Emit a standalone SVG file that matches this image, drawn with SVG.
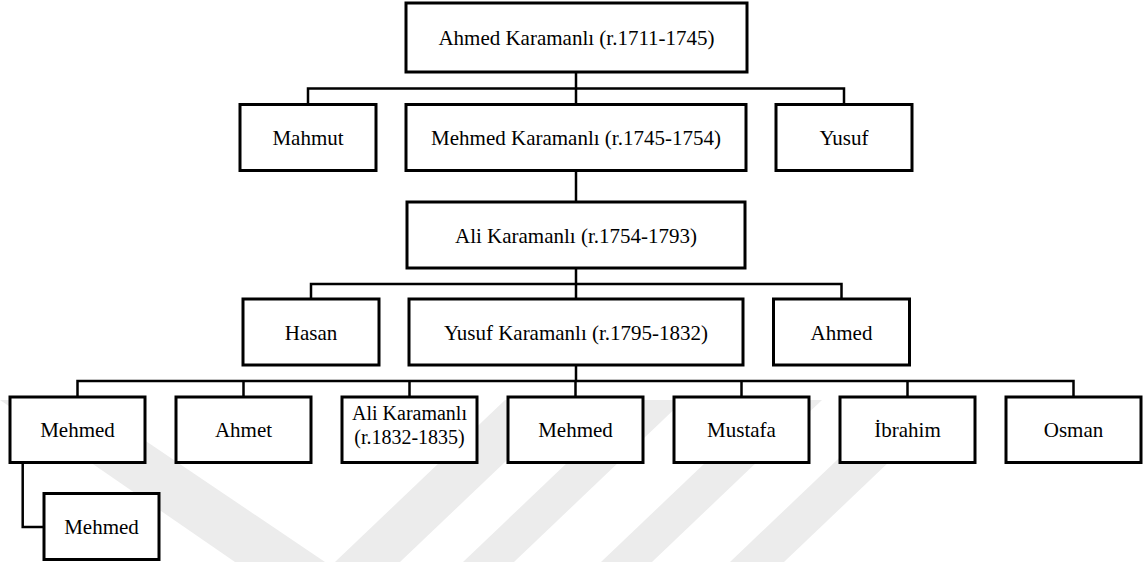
<svg xmlns="http://www.w3.org/2000/svg" width="1143" height="562" viewBox="0 0 1143 562">
<style>
.box{fill:#fff;stroke:#000;stroke-width:3}
.lbl{font-family:"Liberation Serif","Times New Roman",serif;font-size:21px;fill:#000;text-anchor:middle}
.sm{font-size:20px}
.ln{fill:none;stroke:#000;stroke-width:2.5}
.wm{fill:#ececec}
</style>
<rect width="1143" height="562" fill="#fff"/>
<g id="watermark">
<polygon class="wm" points="0,400 85,400 325,562 235,562"/>
<polygon class="wm" points="505,400 570,400 400,562 335,562"/>
<polygon class="wm" points="633,400 684,400 514,562 463,562"/>
<polygon class="wm" points="771,400 822,400 652,562 601,562"/>
<polygon class="wm" points="900,400 954,400 784,562 730,562"/>
</g>
<g id="connectors">
<path class="ln" d="M576,72 V88.5 M308,103 V88.5 H844 V103 M576,88.5 V103"/>
<path class="ln" d="M576,171 V201"/>
<path class="ln" d="M576,269 V284 M311,298 V284 H841.5 V298 M576,284 V298"/>
<path class="ln" d="M576,366 V381 M77.5,396 V381 H1073.5 V396 M243.5,381 V396 M409.5,381 V396 M575.5,381 V396 M741.5,381 V396 M907.5,381 V396"/>
<path class="ln" d="M22.7,464 V527 H44"/>
</g>
<g id="n-ahmed-karamanli"><rect class="box" x="406" y="3" width="341" height="69"/><text class="lbl" x="576.5" y="45">Ahmed Karamanlı (r.1711-1745)</text></g>
<g id="n-mahmut"><rect class="box" x="240" y="104.5" width="136" height="66"/><text class="lbl" x="308" y="145">Mahmut</text></g>
<g id="n-mehmed-karamanli"><rect class="box" x="406" y="104.5" width="340" height="66"/><text class="lbl" x="576" y="145">Mehmed Karamanlı (r.1745-1754)</text></g>
<g id="n-yusuf"><rect class="box" x="776" y="104.5" width="136" height="66"/><text class="lbl" x="844" y="145">Yusuf</text></g>
<g id="n-ali-karamanli"><rect class="box" x="407" y="202" width="338" height="66"/><text class="lbl" x="576" y="242.5">Ali Karamanlı (r.1754-1793)</text></g>
<g id="n-hasan"><rect class="box" x="243" y="299" width="136" height="66"/><text class="lbl" x="311" y="339.5">Hasan</text></g>
<g id="n-yusuf-karamanli"><rect class="box" x="409" y="299" width="334" height="66"/><text class="lbl" x="576" y="339.5">Yusuf Karamanlı (r.1795-1832)</text></g>
<g id="n-ahmed"><rect class="box" x="773.5" y="299" width="136" height="66"/><text class="lbl" x="841.5" y="339.5">Ahmed</text></g>
<g id="n-mehmed-1"><rect class="box" x="10" y="397" width="135" height="65.5"/><text class="lbl" x="77.5" y="437">Mehmed</text></g>
<g id="n-ahmet"><rect class="box" x="176" y="397" width="135" height="65.5"/><text class="lbl" x="243.5" y="437">Ahmet</text></g>
<g id="n-ali-karamanli-2"><rect class="box" x="342" y="397" width="135" height="65.5"/><text class="lbl sm" x="409.5" y="420">Ali Karamanlı</text><text class="lbl sm" x="409.5" y="443.5">(r.1832-1835)</text></g>
<g id="n-mehmed-2"><rect class="box" x="508" y="397" width="135" height="65.5"/><text class="lbl" x="575.5" y="437">Mehmed</text></g>
<g id="n-mustafa"><rect class="box" x="674" y="397" width="135" height="65.5"/><text class="lbl" x="741.5" y="437">Mustafa</text></g>
<g id="n-ibrahim"><rect class="box" x="840" y="397" width="135" height="65.5"/><text class="lbl" x="907.5" y="437">İbrahim</text></g>
<g id="n-osman"><rect class="box" x="1006" y="397" width="135" height="65.5"/><text class="lbl" x="1073.5" y="437">Osman</text></g>
<g id="n-mehmed-child"><rect class="box" x="44" y="493.5" width="115" height="66"/><text class="lbl" x="101.5" y="534">Mehmed</text></g>
</svg>
